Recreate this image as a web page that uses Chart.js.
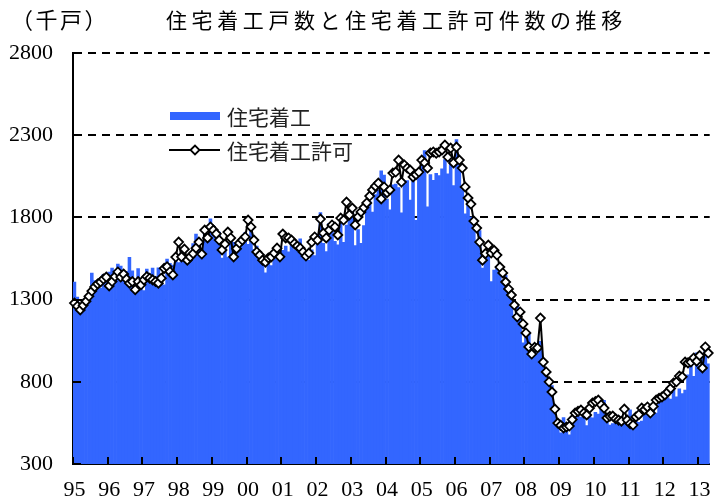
<!DOCTYPE html>
<html>
<head>
<meta charset="utf-8">
<script src="https://cdn.jsdelivr.net/npm/chart.js@4.4.1/dist/chart.umd.min.js"></script>
<style>
  html, body { margin: 0; padding: 0; background: #fff; }
</style>
</head>
<body>
<canvas id="chart" width="716" height="500"></canvas>
<script>
const title = '住宅着工戸数と住宅着工許可件数の推移';
const unitLabel = '（千戸）';
const seriesNames = ['住宅着工', '住宅着工許可'];

// tick labels, one per year (Jan 1995 .. Apr 2013, monthly)
const years = ['95','96','97','98','99','00','01','02','03','04','05','06','07','08','09','10','11','12','13'];

// housing starts, thousands (bars)
const starts = [
  1407, 1316, 1249, 1267, 1314, 1281, 1461, 1416, 1369, 1369, 1452, 1431, // 95
  1467, 1491, 1424, 1516, 1504, 1467, 1472, 1557, 1475, 1392, 1489, 1370, // 96
  1355, 1486, 1457, 1492, 1442, 1494, 1437, 1390, 1546, 1520, 1510, 1566, // 97
  1525, 1584, 1567, 1540, 1536, 1641, 1698, 1614, 1582, 1715, 1660, 1792, // 98
  1748, 1670, 1710, 1553, 1611, 1559, 1669, 1648, 1635, 1608, 1648, 1708, // 99
  1636, 1737, 1604, 1626, 1575, 1559, 1463, 1541, 1507, 1549, 1551, 1532, // 00
  1600, 1625, 1590, 1649, 1605, 1636, 1670, 1567, 1562, 1540, 1602, 1568, // 01
  1698, 1829, 1642, 1592, 1764, 1717, 1655, 1633, 1804, 1648, 1753, 1788, // 02
  1853, 1629, 1726, 1643, 1751, 1867, 1897, 1833, 1939, 1967, 2083, 2057, // 03
  1911, 1846, 1998, 2003, 1981, 1828, 2002, 2024, 1905, 2072, 1782, 2042, // 04
  2144, 2207, 1864, 2061, 2025, 2068, 2054, 2095, 2151, 2065, 2147, 1994, // 05
  2273, 2119, 1969, 1821, 1942, 1802, 1737, 1650, 1720, 1491, 1570, 1649, // 06
  1409, 1480, 1495, 1490, 1415, 1448, 1354, 1330, 1183, 1264, 1197, 1037, // 07
  1084, 1103, 1005, 1013,  973, 1046,  923,  844,  820,  777,  652,  560, // 08
   490,  582,  505,  478,  540,  585,  594,  586,  585,  534,  588,  581, // 09
   614,  604,  636,  687,  583,  536,  546,  599,  591,  543,  545,  539, // 10
   630,  517,  600,  554,  561,  608,  623,  585,  650,  610,  711,  694, // 11
   723,  704,  695,  753,  708,  757,  728,  749,  843,  915,  833,  976, // 12
   888,  960, 1000,  910                                                  // 13
];

// building permits, thousands (line)
const permits = [
  1279, 1260, 1237, 1265, 1290, 1320, 1352, 1377, 1395, 1407, 1425, 1437, // 95
  1383, 1410, 1440, 1468, 1437, 1455, 1425, 1400, 1410, 1360, 1410, 1390, // 96
  1420, 1440, 1430, 1420, 1410, 1400, 1430, 1490, 1500, 1470, 1450, 1559, // 97
  1650, 1560, 1607, 1540, 1560, 1580, 1613, 1650, 1577, 1723, 1675, 1742, // 98
  1723, 1700, 1662, 1602, 1638, 1711, 1675, 1560, 1610, 1644, 1662, 1681, // 99
  1784, 1742, 1662, 1590, 1571, 1540, 1528, 1553, 1560, 1583, 1613, 1560, // 00
  1699, 1675, 1675, 1662, 1640, 1626, 1613, 1590, 1565, 1583, 1650, 1681, // 01
  1662, 1790, 1705, 1675, 1723, 1754, 1742, 1693, 1796, 1784, 1893, 1815, // 02
  1857, 1754, 1803, 1833, 1860, 1888, 1930, 1967, 1990, 2009, 1912, 1985, // 03
  1950, 1967, 2070, 2076, 2149, 2015, 2119, 2100, 2088, 2046, 2060, 2076, // 04
  2149, 2131, 2100, 2192, 2198, 2190, 2198, 2210, 2240, 2167, 2222, 2131, // 05
  2228, 2149, 2100, 1985, 1918, 1881, 1778, 1735, 1650, 1540, 1580, 1632, // 06
  1583, 1600, 1571, 1498, 1462, 1407, 1365, 1328, 1267, 1195, 1225, 1152, // 07
  1097, 1012,  969, 1010, 1006, 1188,  920,  860,  800,  738,  634,  549, // 08
   535,  519,  525,  531,  570,  610,  620,  628,  610,  598,  640,  671, // 09
   680,  689,  660,  640,  580,  590,  592,  575,  567,  560,  634,  567, // 10
   545,  537,  586,  600,  640,  630,  647,  610,  650,  689,  700,  708, // 11
   720,  738,  760,  793,  800,  835,  830,  920,  915,  920,  945,  925, // 12
   960,  884, 1012,  975                                                  // 13
];

const months = [];
years.forEach(y => { for (let m = 1; m <= 12; m++) months.push(y + '/' + m); });
months.length = starts.length;

const barColor = '#3366ff';
const jpFont = '"Noto Sans CJK JP", "Noto Sans", sans-serif';
const numFont = '"Liberation Serif", "DejaVu Serif", serif';

function spacedText(ctx, text, x, y, pitch) {
  for (const ch of text) { ctx.fillText(ch, x, y); x += pitch; }
}

function diamond(ctx, cx, cy, r) {
  ctx.beginPath();
  ctx.moveTo(cx - r, cy); ctx.lineTo(cx, cy - r);
  ctx.lineTo(cx + r, cy); ctx.lineTo(cx, cy + r);
  ctx.closePath();
  ctx.fillStyle = '#fff'; ctx.fill();
  ctx.lineWidth = 1.8; ctx.strokeStyle = '#000'; ctx.stroke();
}

// title, unit, legend and the inward tick marks
const decorations = {
  id: 'decorations',
  afterDraw(chart) {
    const { ctx, chartArea: a, scales: { x, y } } = chart;
    ctx.save();
    ctx.strokeStyle = '#000';
    ctx.lineWidth = 2;
    ctx.beginPath();
    const half = (x.getPixelForValue(1) - x.getPixelForValue(0)) / 2;
    years.forEach((_, k) => {
      const px = Math.round(x.getPixelForValue(k * 12) - half);
      ctx.moveTo(px, a.bottom); ctx.lineTo(px, a.bottom - 7);
    });
    y.ticks.forEach(t => {
      const py = Math.round(y.getPixelForValue(t.value));
      ctx.moveTo(a.left, py); ctx.lineTo(a.left + 8, py);
    });
    ctx.stroke();

    ctx.fillStyle = '#000';
    ctx.textBaseline = 'middle';
    ctx.font = '22px ' + jpFont;
    spacedText(ctx, unitLabel, 11, 20, 24.5);
    ctx.font = '21px ' + jpFont;
    spacedText(ctx, title, 166, 20, 25.6);

    // legend
    ctx.fillStyle = barColor;
    ctx.fillRect(170, 112, 50, 8);
    ctx.beginPath();
    ctx.moveTo(169, 150); ctx.lineTo(220, 150);
    ctx.lineWidth = 2; ctx.strokeStyle = '#000'; ctx.stroke();
    diamond(ctx, 195, 150, 4.5);
    ctx.fillStyle = '#222';
    ctx.font = '21px ' + jpFont;
    spacedText(ctx, seriesNames[0], 227, 117, 21);
    spacedText(ctx, seriesNames[1], 227, 151, 21);
    ctx.restore();
  }
};

new Chart(document.getElementById('chart'), {
  data: {
    labels: months,
    datasets: [
      {
        type: 'line',
        label: seriesNames[1],
        data: permits,
        order: 0,
        borderColor: '#000',
        borderWidth: 2,
        tension: 0,
        pointStyle: 'rectRot',
        pointRadius: 4.5,
        pointBorderWidth: 1.8,
        pointBackgroundColor: '#fff',
        pointBorderColor: '#000'
      },
      {
        type: 'bar',
        label: seriesNames[0],
        data: starts,
        order: 1,
        backgroundColor: barColor,
        borderWidth: 0,
        barPercentage: 1,
        categoryPercentage: 1
      }
    ]
  },
  options: {
    responsive: false,
    animation: false,
    layout: { padding: { top: 53, right: 2, left: 0, bottom: 0 } },
    plugins: { legend: { display: false }, tooltip: { enabled: false } },
    scales: {
      x: {
        grid: { display: false },
        border: { display: true, color: '#000', width: 2 },
        ticks: {
          autoSkip: false, maxRotation: 0, minRotation: 0, padding: 5,
          color: '#000', font: { family: numFont, size: 22 },
          callback: (v, i) => (i % 12 === 0 ? years[i / 12] : '')
        },
        afterFit: s => { s.height = 36; }
      },
      y: {
        min: 300, max: 2800,
        grid: { color: '#000', lineWidth: 2, drawTicks: false },
        border: { display: true, color: '#000', width: 2, dash: [8, 6] },
        ticks: {
          stepSize: 500, padding: 20, color: '#000', font: { family: numFont, size: 22 },
          callback: v => String(v)
        },
        afterFit: s => { s.width = 73; }
      }
    }
  },
  plugins: [decorations]
});
</script>
</body>
</html>
